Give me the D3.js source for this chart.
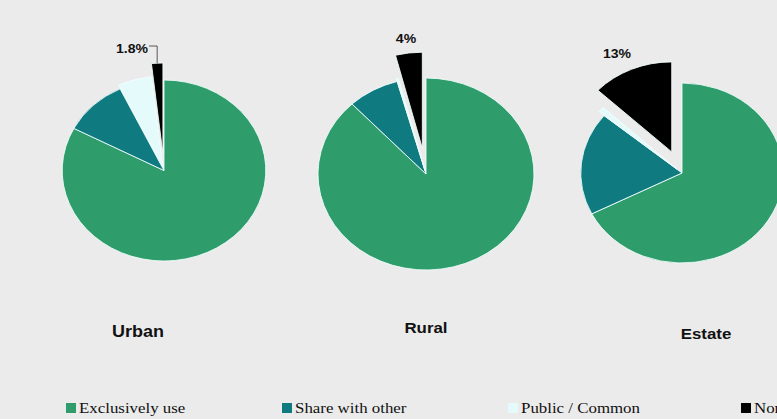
<!DOCTYPE html>
<html>
<head>
<meta charset="utf-8">
<script src="https://cdn.jsdelivr.net/npm/d3@7"></script>
<style>
  html, body { margin: 0; padding: 0; background: #ebebeb; overflow: hidden; }
  svg { display: block; }
</style>
</head>
<body>
<div id="chart"></div>
<script>
// 三个饼图: Urban / Rural / Estate, 扇区按 用途 分类 (%)
const categories = ["Exclusively use", "Share with other", "Public / Common", "None"];
const areas = ["Urban", "Rural", "Estate"];
const urbanValues = [82.7, 10.2, 5.3, 1.8];
const ruralValues = [88.0, 7.7, 0.3, 4.0];
const estateValues = [67.5, 18.5, 1.0, 13.0];
const noneLabels = ["1.8%", "4%", "13%"];

const W = 777, H = 419;
const colors = ["#2f9d6b", "#0f7b80", "#e4fafb", "#000000"];
const sx = 1.125; // 原图横向拉伸

// 每个饼的位置/大小 (布局, 非数据)
const layout = [
  { cx: 164, cy: 170.5, r: 90.5, pull: [0, 0, 4, 17], title: [138, 337], lab: [148, 53, "end"], leader: true },
  { cx: 426, cy: 174, r: 96, pull: [0, 0, 3, 26], title: [426, 333], lab: [406, 43, "middle"], leader: false },
  { cx: 682, cy: 173, r: 90, pull: [0, 0, 6, 23], title: [706, 339], lab: [617, 58, "middle"], leader: false }
];
const titleSize = [16, 15, 15];
const series = [urbanValues, ruralValues, estateValues];

const svg = d3.select("#chart").append("svg").attr("width", W).attr("height", H);
svg.append("rect").attr("width", W).attr("height", H).attr("fill", "#ebebeb");

const pie = d3.pie().sort(null).value((d) => d);

series.forEach((vals, i) => {
  const L = layout[i];
  const arcs = pie(vals);
  const arc = d3.arc().innerRadius(0).outerRadius(L.r);
  const g = svg.append("g").attr("transform", `translate(${L.cx},${L.cy}) scale(${sx},1)`);
  g.selectAll("path").data(arcs).join("path")
    .attr("fill", (d, j) => colors[j])
    .attr("stroke", "#f2ffff").attr("stroke-width", 0.8)
    .attr("transform", (d, j) => {
      const m = (d.startAngle + d.endAngle) / 2, p = L.pull[j];
      return `translate(${Math.sin(m) * p},${-Math.cos(m) * p})`;
    })
    .attr("d", arc);

  // None 扇区标签
  const none = arcs[3];
  svg.append("text")
    .attr("transform", `translate(${L.lab[0]},${L.lab[1]}) scale(${sx},1)`)
    .attr("text-anchor", L.lab[2])
    .attr("font-family", "Liberation Sans, Arial, sans-serif").attr("font-weight", "bold")
    .attr("font-size", 12.5).attr("fill", "#111").text(noneLabels[i]);
  if (L.leader) {
    const m = (none.startAngle + none.endAngle) / 2, p = L.pull[3];
    const ox = L.cx + (Math.sin(m) * (L.r + p)) * sx;
    const oy = L.cy - Math.cos(m) * (L.r + p);
    svg.append("path").attr("fill", "none").attr("stroke", "#333").attr("stroke-width", 0.8)
      .attr("d", `M${L.lab[0] + 1},${L.lab[1] - 7}H${ox}V${oy}`);
  }

  svg.append("text")
    .attr("transform", `translate(${L.title[0]},${L.title[1]}) scale(${sx},1)`)
    .attr("text-anchor", "middle")
    .attr("font-family", "Liberation Sans, Arial, sans-serif").attr("font-weight", "bold")
    .attr("font-size", titleSize[i]).attr("fill", "#111").text(areas[i]);
});

// 图例 (最后一项在右边被截断, 与原图一致)
const legX = [66, 282, 508, 741];
const leg = svg.append("g").attr("transform", "translate(0,403)");
categories.forEach((c, j) => {
  const g = leg.append("g").attr("transform", `translate(${legX[j]},0)`);
  g.append("rect").attr("width", 10).attr("height", 10).attr("fill", colors[j]);
  g.append("text").attr("transform", `translate(13,10) scale(${sx},1)`)
    .attr("font-family", "Liberation Serif, Times New Roman, serif")
    .attr("font-size", 15).attr("fill", "#111").text(c);
});
</script>
</body>
</html>
